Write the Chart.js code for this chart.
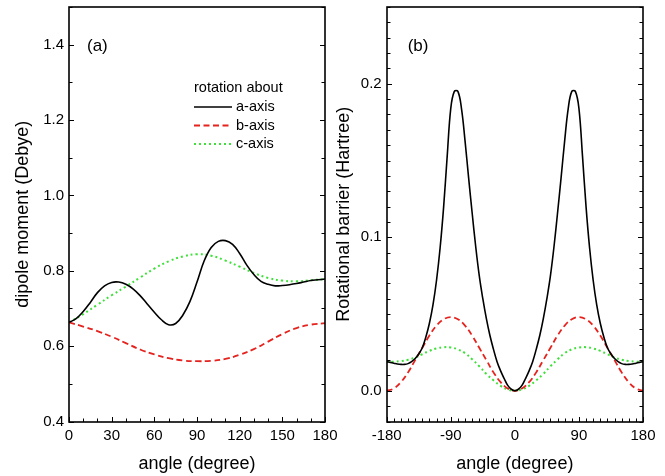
<!DOCTYPE html>
<html lang="en">
<head>
<meta charset="UTF-8">
<title>Dipole moment and rotational barrier</title>
<script src="https://cdn.jsdelivr.net/npm/chart.js"></script>
<style>
  body { margin: 0; background: #fff; }
  #wrap { position: relative; width: 665px; height: 476px; overflow: hidden; }
  #chartA { position: absolute; left: 0; top: 0; }
  #chartB { position: absolute; left: 330px; top: 0; }
</style>
</head>
<body>
<div id="wrap">
  <canvas id="chartA" width="340" height="476"></canvas>
  <canvas id="chartB" width="335" height="476"></canvas>
</div>
<script>
// ---- panel (a): dipole moment vs angle ----
const angA5 = [0,5,10,15,20,25,30,35,40,45,50,55,60,65,70,75,80,85,90,
               95,100,105,110,115,120,125,130,135,140,145,150,155,160,165,170,175,180];
const dipoleA = [0.663,0.673,0.692,0.716,0.742,0.760,0.769,0.770,0.764,0.752,0.734,0.712,0.690,0.670,0.657,0.660,0.682,0.718,0.770,
                 0.826,0.862,0.878,0.880,0.870,0.846,0.815,0.790,0.772,0.764,0.760,0.761,0.763,0.766,0.770,0.774,0.776,0.778];
const angA10 = [0,10,20,30,40,50,60,70,80,90,100,110,120,130,140,150,160,170,180];
const dipoleB = [0.663,0.652,0.640,0.625,0.608,0.591,0.578,0.568,0.562,0.560,0.561,0.566,0.577,0.592,0.612,0.632,0.648,0.657,0.661];
const dipoleC = [0.663,0.685,0.710,0.735,0.758,0.782,0.806,0.825,0.838,0.844,0.840,0.827,0.811,0.794,0.781,0.774,0.772,0.775,0.778];
const xTicksA = [0,30,60,90,120,150,180];
const yTicksA = [0.4,0.6,0.8,1.0,1.2,1.4];

// ---- panel (b): rotational barrier vs angle ----
const angB5 = [-180,-175,-170,-165,-160,-155,-150,-145,-140,-135,-130,-125,-120,-115,-110,-105,-100,-95,-90,-85,-80,-75,-70,-65,-60,-55,-50,-45,-40,-35,-30,-25,-20,-15,-10,-5,
               0,5,10,15,20,25,30,35,40,45,50,55,60,65,70,75,80,85,90,95,100,105,110,115,120,125,130,135,140,145,150,155,160,165,170,175,180];
const barrierA = [0.019,0.0185,0.018,0.0175,0.0172,0.0172,0.0177,0.019,0.021,0.024,0.028,0.035,0.044,0.056,0.072,0.093,0.120,0.153,0.184,0.195,0.195,0.184,0.163,0.139,0.116,0.094,0.075,0.060,0.047,0.036,0.027,0.019,0.013,0.008,0.0035,0.001,
                  0,0.001,0.0035,0.008,0.013,0.019,0.027,0.036,0.047,0.060,0.075,0.094,0.116,0.139,0.163,0.184,0.195,0.195,0.184,0.153,0.120,0.093,0.072,0.056,0.044,0.035,0.028,0.024,0.021,0.019,0.0177,0.0172,0.0172,0.0175,0.018,0.0185,0.019];
const angB10 = [-180,-170,-160,-150,-140,-130,-120,-110,-100,-90,-80,-70,-60,-50,-40,-30,-20,-10,
                0,10,20,30,40,50,60,70,80,90,100,110,120,130,140,150,160,170,180];
const barrierB = [0,0.0015,0.0056,0.012,0.020,0.028,0.036,0.0425,0.0466,0.048,0.0466,0.0425,0.036,0.028,0.020,0.012,0.0056,0.0015,
                  0,0.0015,0.0056,0.012,0.020,0.028,0.036,0.0425,0.0466,0.048,0.0466,0.0425,0.036,0.028,0.020,0.012,0.0056,0.0015,0];
const barrierC = [0.019,0.019,0.0194,0.0202,0.0217,0.0238,0.026,0.0276,0.0284,0.0282,0.027,0.0245,0.0205,0.016,0.011,0.0068,0.0032,0.0009,
                  0,0.0009,0.0032,0.0068,0.011,0.016,0.0205,0.0245,0.027,0.0282,0.0284,0.0276,0.026,0.0238,0.0217,0.0202,0.0194,0.019,0.019];
const xTicksB = [-180,-90,0,90,180];
const yTicksB = [0.0,0.1,0.2];

const seriesNames = ['a-axis', 'b-axis', 'c-axis'];
const FONT = "'Liberation Sans', Arial, Helvetica, sans-serif";
const RED = '#e5231e';
const GREEN = '#3fe03a';

function pts(xs, ys) {
    return xs.map((x, i) => ({ x: x, y: ys[i] }));
}

function lineSet(label, data, color, dash, width) {
    return {
        label: label,
        data: data,
        borderColor: color,
        borderWidth: width,
        borderDash: dash,
        pointRadius: 0,
        tension: 0.4,
        fill: false
    };
}

// snap to the pixel grid so 1px ticks stay sharp
function crisp(v) {
    return Math.round(v) + 0.5;
}

// frame around the plot, inward tick marks (major + minor), panel tag and legend
const framePlugin = {
    id: 'frame',
    afterDatasetsDraw(chart, args, opts) {
        const ctx = chart.ctx;
        const a = chart.chartArea;
        const x = chart.scales.x, y = chart.scales.y;
        const L = Math.round(a.left), R = Math.round(a.right);
        const T = Math.round(a.top), B = Math.round(a.bottom);
        ctx.save();
        ctx.strokeStyle = '#000';
        ctx.lineWidth = 1;
        ctx.beginPath();
        // x ticks along the bottom
        let n = Math.round((x.max - x.min) / opts.xMinor);
        for (let i = 0; i <= n; i++) {
            const v = x.min + i * opts.xMinor;
            const px = crisp(x.getPixelForValue(v));
            const major = Math.abs(v / opts.xMajor - Math.round(v / opts.xMajor)) < 1e-6;
            const len = major ? 5 : 3.5;
            ctx.moveTo(px, B);
            ctx.lineTo(px, B - len);
        }
        // y ticks on left and right sides
        n = Math.round((y.max - y.min) / opts.yMinor);
        for (let i = 0; i <= n; i++) {
            const v = y.min + i * opts.yMinor;
            const py = crisp(y.getPixelForValue(v));
            const major = Math.abs(v / opts.yMajor - Math.round(v / opts.yMajor)) < 1e-6;
            const len = major ? 5 : 3.5;
            ctx.moveTo(L, py);
            ctx.lineTo(L + len, py);
            ctx.moveTo(R, py);
            ctx.lineTo(R - len, py);
        }
        ctx.stroke();
        ctx.lineWidth = 1.6;
        ctx.strokeRect(L, T, R - L, B - T);

        ctx.fillStyle = '#000';
        ctx.font = '17px ' + FONT;
        ctx.textBaseline = 'alphabetic';
        ctx.textAlign = 'left';
        ctx.fillText(opts.tag, a.left + opts.tagDx, 51);

        if (opts.legend) {
            ctx.font = '14.5px ' + FONT;
            ctx.textBaseline = 'middle';
            ctx.fillText('rotation about', 194, 88);
            const ds = chart.data.datasets;
            for (let i = 0; i < ds.length; i++) {
                const ly = 107 + i * 18.5;
                ctx.beginPath();
                ctx.strokeStyle = ds[i].borderColor;
                ctx.lineWidth = ds[i].borderWidth;
                ctx.setLineDash(ds[i].borderDash);
                ctx.moveTo(194, ly);
                ctx.lineTo(232, ly);
                ctx.stroke();
                ctx.setLineDash([]);
                ctx.fillText(ds[i].label, 236, ly);
            }
        }
        ctx.restore();
    }
};

function makeChart(id, cfg) {
    return new Chart(document.getElementById(id), {
        type: 'line',
        data: { datasets: cfg.datasets },
        options: {
            responsive: false,
            animation: false,
            layout: { padding: { top: 7, right: cfg.padRight, left: 0, bottom: 0 } },
            plugins: {
                legend: { display: false },
                tooltip: { enabled: false },
                frame: cfg.frame
            },
            scales: {
                x: {
                    type: 'linear',
                    min: cfg.xMin, max: cfg.xMax,
                    grid: { display: false, drawTicks: false },
                    border: { display: false },
                    afterBuildTicks: s => { s.ticks = cfg.xTicks.map(v => ({ value: v })); },
                    afterFit: s => { s.height = 54.5; s.paddingLeft = 0; s.paddingRight = 0; },
                    ticks: {
                        color: '#000', padding: 5, maxRotation: 0, autoSkip: false,
                        font: { family: FONT, size: 15 },
                        callback: v => String(v)
                    },
                    title: {
                        display: true, text: 'angle (degree)', color: '#000',
                        font: { family: FONT, size: 18 }, padding: { top: 0, bottom: 1 }
                    }
                },
                y: {
                    min: cfg.yMin, max: cfg.yMax,
                    grid: { display: false, drawTicks: false },
                    border: { display: false },
                    afterBuildTicks: s => { s.ticks = cfg.yTicks.map(v => ({ value: v })); },
                    afterFit: s => { s.width = cfg.yWidth; s.paddingTop = 0; s.paddingBottom = 0; },
                    ticks: {
                        color: '#000', padding: 5, autoSkip: false,
                        font: { family: FONT, size: 15 },
                        callback: v => v.toFixed(1)
                    },
                    title: {
                        display: true, text: cfg.yTitle, color: '#000',
                        font: { family: FONT, size: 18 }, padding: { top: cfg.yTitlePad, bottom: 0 }
                    }
                }
            }
        },
        plugins: [framePlugin]
    });
}

makeChart('chartA', {
    datasets: [
        lineSet(seriesNames[0], pts(angA5, dipoleA), '#000', [], 1.6),
        lineSet(seriesNames[1], pts(angA10, dipoleB), RED, [6, 3.5], 1.8),
        lineSet(seriesNames[2], pts(angA10, dipoleC), GREEN, [2, 3], 2)
    ],
    xMin: 0, xMax: 180, xTicks: xTicksA,
    yMin: 0.4, yMax: 1.5, yTicks: yTicksA,
    yWidth: 69, padRight: 15, yTitle: 'dipole moment (Debye)', yTitlePad: 12,
    frame: { xMinor: 10, xMajor: 30, yMinor: 0.1, yMajor: 0.2, tag: '(a)', tagDx: 18, legend: true }
});

makeChart('chartB', {
    datasets: [
        lineSet(seriesNames[0], pts(angB5, barrierA), '#000', [], 1.6),
        lineSet(seriesNames[1], pts(angB10, barrierB), RED, [6, 3.5], 1.8),
        lineSet(seriesNames[2], pts(angB10, barrierC), GREEN, [2, 3], 2)
    ],
    xMin: -180, xMax: 180, xTicks: xTicksB,
    yMin: -0.02, yMax: 0.25, yTicks: yTicksB,
    yWidth: 56.7, padRight: 22, yTitle: 'Rotational barrier (Hartree)', yTitlePad: 3,
    frame: { xMinor: 10, xMajor: 90, yMinor: 0.01, yMajor: 0.1, tag: '(b)', tagDx: 21, legend: false }
});
</script>
</body>
</html>
